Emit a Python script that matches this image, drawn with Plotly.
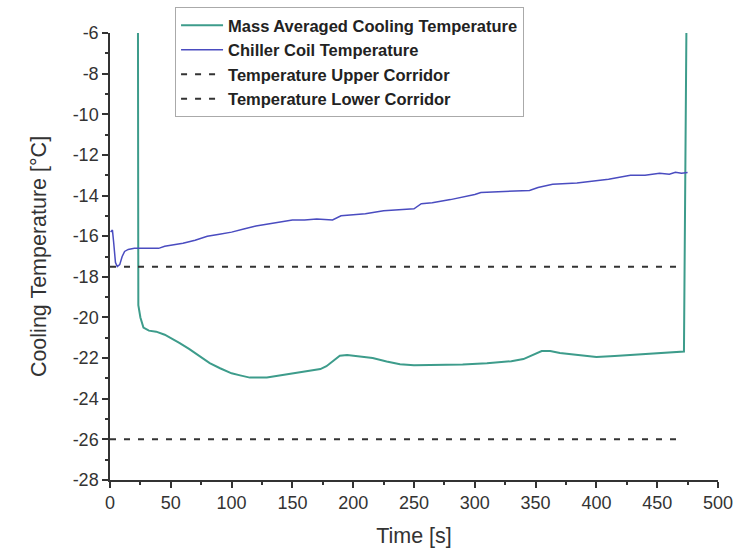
import plotly.graph_objects as go

# Mass Averaged Cooling Temperature
mass_t = [23, 23.3, 25, 27.5, 32, 38, 45, 50, 57, 65, 74, 82, 90.5, 100, 107, 115, 129, 140, 151,
          165, 173, 178, 184, 189, 195, 205, 216, 227.5, 238.5, 250, 270, 290, 310, 330, 340, 348,
          355, 362, 370, 385, 400, 415, 430, 450, 465, 472, 474]
mass_T = [-6, -19.4, -20.0, -20.5, -20.65, -20.7, -20.85, -21.0, -21.25, -21.55, -21.93, -22.25,
          -22.5, -22.75, -22.85, -22.96, -22.96, -22.85, -22.75, -22.62, -22.54, -22.4, -22.1,
          -21.88, -21.85, -21.92, -22.0, -22.17, -22.3, -22.35, -22.35, -22.32, -22.25, -22.15,
          -22.05, -21.85, -21.65, -21.65, -21.75, -21.85, -21.95, -21.9, -21.85, -21.78, -21.72,
          -21.68, -6]

# Chiller Coil Temperature
coil_t = [0.5, 2, 3, 4.5, 6, 8, 10, 12, 15, 20, 30, 40, 45, 50, 60, 70, 80, 90, 100, 110, 120,
          130, 140, 150, 160, 170, 183, 190, 200, 210, 225, 240, 250, 256, 265, 280, 293, 300,
          305, 320, 345, 352, 364, 384, 400, 410, 428, 440, 452, 460, 465, 470, 475]
coil_T = [-15.8, -15.7, -16.3, -17.3, -17.5, -17.4, -17.0, -16.75, -16.65, -16.6, -16.6, -16.6,
          -16.5, -16.45, -16.35, -16.2, -16.0, -15.9, -15.8, -15.65, -15.5, -15.4, -15.3, -15.2,
          -15.2, -15.15, -15.2, -15.0, -14.95, -14.9, -14.75, -14.7, -14.65, -14.4, -14.35, -14.2,
          -14.05, -13.95, -13.85, -13.8, -13.75, -13.6, -13.45, -13.38, -13.25, -13.2, -13.0,
          -13.0, -12.9, -12.95, -12.85, -12.9, -12.87]

# Corridors
corridor_t = [0, 472]
upper_T = [-17.5, -17.5]
lower_T = [-26, -26]

x_ticks = [0, 50, 100, 150, 200, 250, 300, 350, 400, 450, 500]
x_labels = ["0", "50", "100", "150", "200", "250", "300", "350", "400", "450", "500"]
y_ticks = [-6, -8, -10, -12, -14, -16, -18, -20, -22, -24, -26, -28]
y_labels = ["-6", "-8", "-10", "-12", "-14", "-16", "-18", "-20", "-22", "-24", "-26", "-28"]

fig = go.Figure()
fig.add_trace(go.Scatter(x=mass_t, y=mass_T, mode="lines", name="Mass Averaged Cooling Temperature",
                         line=dict(color="#3d9c8b", width=2)))
fig.add_trace(go.Scatter(x=coil_t, y=coil_T, mode="lines", name="Chiller Coil Temperature",
                         line=dict(color="#4a4cc0", width=1.5)))
fig.add_trace(go.Scatter(x=corridor_t, y=upper_T, mode="lines", name="Temperature Upper Corridor",
                         line=dict(color="#333333", width=2, dash="6px,8px")))
fig.add_trace(go.Scatter(x=corridor_t, y=lower_T, mode="lines", name="Temperature Lower Corridor",
                         line=dict(color="#333333", width=2, dash="6px,8px")))

font_family = "Liberation Sans, Arial, sans-serif"
fig.update_layout(
    width=741, height=555,
    margin=dict(l=110, r=23, t=33, b=75, autoexpand=False),
    plot_bgcolor="white", paper_bgcolor="white",
    font=dict(family=font_family, color="#333333"),
    showlegend=True,
    legend=dict(x=0.107, y=1.058, xanchor="left", yanchor="top",
                bordercolor="#aaaaaa", borderwidth=1, bgcolor="white",
                font=dict(size=16.5, weight="bold", color="#222222"),
                itemwidth=42, tracegroupgap=0),
    xaxis=dict(range=[0, 500], tickvals=x_ticks, ticktext=x_labels, ticks="outside", ticklen=6,
               tickwidth=1.5, tickcolor="#333333", showline=True, linecolor="#333333", linewidth=1.5,
               showgrid=False, zeroline=False, tickfont=dict(size=18),
               minor=dict(dtick=25, ticks="outside", ticklen=3, tickwidth=1.5, tickcolor="#333333"),
               title=dict(text="Time [s]", font=dict(size=21.5), standoff=16)),
    yaxis=dict(range=[-28, -6], tickvals=y_ticks, ticktext=y_labels, ticks="outside", ticklen=6,
               tickwidth=1.5, tickcolor="#333333", showline=True, linecolor="#333333", linewidth=1.5,
               showgrid=False, zeroline=False, tickfont=dict(size=18),
               minor=dict(dtick=1, tick0=-28, ticks="outside", ticklen=3, tickwidth=1.5, tickcolor="#333333"),
               title=dict(text="Cooling Temperature [°C]", font=dict(size=21.5), standoff=20)),
)

fig.write_html("out.html")
